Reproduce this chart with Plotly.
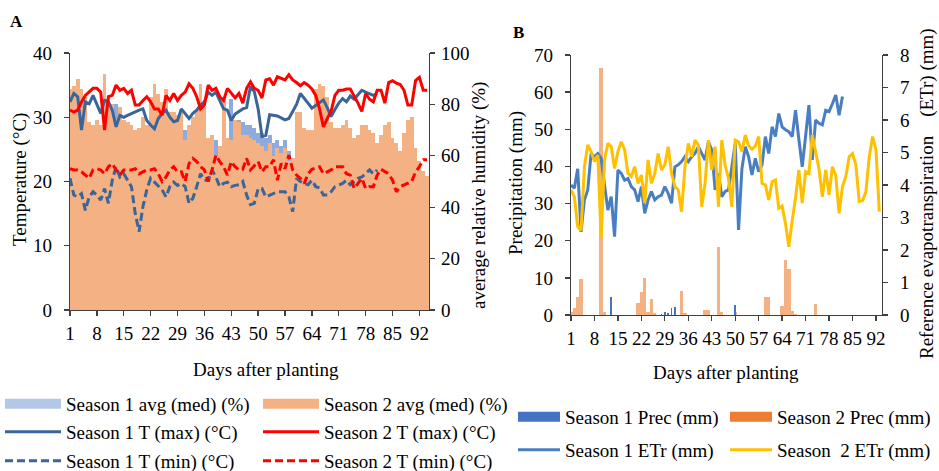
import plotly.graph_objects as go

FONT = "Liberation Serif, Times New Roman, serif"
W, H = 939, 471

# ---------------- Panel A data ----------------
days_s1_a = list(range(1, 82))
days_s2_a = list(range(1, 95))

s1_hum = [82, 84, 86, 82, 80, 70, 70, 71, 70, 86,
          78, 77, 80, 76, 71, 70, 69, 68, 69, 72,
          70, 80, 84, 80, 78, 82, 74, 74, 73, 75,
          70, 69, 72, 75, 84, 76, 64, 65, 66, 62,
          78, 67, 82, 73, 74, 73, 72, 72, 71, 69,
          69, 67, 68, 65, 66, 64, 66, 62, 56, 74,
          74, 68, 67, 67, 82, 84, 83, 80, 70, 68,
          68, 69, 71, 68, 64, 65, 69, 69, 67, 66,
          62]
s2_hum = [86, 87, 90, 86, 83, 73, 72, 74, 72, 92,
          82, 80, 74, 79, 74, 73, 72, 70, 71, 75,
          72, 83, 88, 84, 81, 86, 77, 77, 76, 78,
          66, 72, 75, 78, 88, 79, 67, 68, 60, 64,
          82, 67, 66, 74, 73, 68, 68, 67, 66, 65,
          64, 62, 65, 60, 63, 61, 63, 58, 59, 77,
          77, 71, 70, 70, 86, 88, 87, 83, 73, 71,
          71, 72, 74, 71, 67, 68, 72, 72, 70, 69,
          65, 68, 72, 73, 67, 65, 62, 69, 74, 75,
          63, 58, 54, 52]
s1_tmax = [32.4, 33.7, 33.2, 28.0, 32.4, 32.1, 33.4, 31.9, 30.6, 32.6,
           32.4, 31.1, 28.5, 30.3, 30.0, 30.3, 30.6, 30.8, 31.1, 31.3,
           29.5, 28.8, 28.2, 29.8, 30.6, 31.1, 30.0, 29.3, 29.5, 31.3,
           30.6, 29.8, 30.6, 31.1, 31.9, 32.4, 33.9, 33.4, 33.9, 32.6,
           31.3, 31.1, 29.5, 30.5, 30.9, 31.3, 31.5, 34.8, 34.0, 31.3,
           27.0, 27.2, 30.4, 30.3, 30.2, 29.9, 29.6, 29.8, 30.9, 32.0,
           33.7, 33.0, 32.2, 31.4, 31.8, 32.3, 32.7, 31.5, 30.1, 31.2,
           32.2, 32.9, 32.4, 33.3, 32.8, 33.5, 34.2, 33.9, 33.6, 33.4,
           33.7]
s1_tmin = [20.5, 17.9, 17.6, 18.1, 15.5, 17.6, 18.4, 17.9, 17.1, 18.9,
           16.6, 20.2, 22.3, 20.7, 21.2, 20.2, 19.2, 15.0, 12.2, 16.1,
           18.7, 20.5, 19.9, 19.2, 18.7, 17.6, 19.2, 19.9, 19.4, 19.7,
           19.2, 16.6, 17.4, 19.2, 21.2, 20.2, 20.2, 21.8, 20.7, 19.2,
           19.7, 19.9, 19.2, 19.4, 19.5, 20.0, 17.9, 16.4, 16.6, 18.9,
           18.9, 17.6, 17.9, 18.2, 18.4, 18.4, 18.4, 17.6, 15.3, 20.5,
           20.0, 19.7, 19.5, 20.2, 19.2, 19.0, 17.9, 17.9, 18.4, 19.2,
           19.4, 19.7, 20.2, 19.5, 20.0, 20.5, 20.7, 21.3, 21.8, 21.2,
           21.8]
s2_tmax = [31.1, 30.8, 31.1, 32.4, 33.4, 33.9, 34.5, 34.5, 33.9, 28.0,
           33.2, 33.4, 35.0, 34.2, 34.5, 33.7, 34.2, 31.9, 31.9, 32.6,
           33.2, 32.4, 31.3, 31.3, 30.3, 33.4, 32.6, 33.7, 32.6, 33.4,
           33.9, 35.2, 34.5, 33.2, 31.3, 31.9, 35.0, 34.2, 34.5, 33.2,
           32.6, 34.5, 33.7, 33.0, 33.7, 32.2, 34.5, 35.5, 34.5, 34.2,
           33.0, 35.8, 36.0, 35.0, 36.3, 36.0, 35.8, 36.6, 35.8, 35.4,
           34.9, 35.4, 35.0, 34.4, 33.4, 31.3, 28.5, 29.8, 30.9, 33.4,
           34.2, 34.2, 34.4, 34.4, 33.4, 32.2, 30.9, 33.7, 32.8, 32.4,
           34.2, 34.2, 32.2, 35.4, 35.7, 35.3, 35.1, 34.2, 31.9, 31.9,
           35.7, 36.2, 34.2, 34.2]
s2_tmin = [22.0, 21.8, 21.8, 21.5, 21.0, 20.5, 21.8, 22.0, 21.8, 21.2,
           22.3, 22.8, 21.8, 21.0, 21.8, 21.8, 21.8, 22.0, 21.2, 21.5,
           21.8, 21.8, 22.0, 21.2, 20.0, 20.7, 21.8, 22.3, 21.5, 21.5,
           20.0, 22.8, 23.6, 23.1, 22.3, 21.8, 20.0, 21.8, 24.1, 23.1,
           22.3, 21.0, 23.1, 22.3, 21.8, 21.9, 23.6, 21.8, 22.5, 23.1,
           21.5, 22.3, 22.3, 23.4, 20.2, 22.8, 22.0, 24.1, 21.8, 21.0,
           20.5, 19.7, 21.2, 21.9, 22.1, 22.3, 21.2, 21.5, 21.8, 22.3,
           22.3, 22.3, 21.2, 21.0, 18.9, 19.7, 20.5, 18.9, 19.2, 19.2,
           21.0, 21.9, 21.5, 21.2, 20.2, 18.4, 19.2, 19.5, 19.7, 20.0,
           21.5, 22.3, 23.4, 23.4]

# ---------------- Panel B data ----------------
days_s1_b = list(range(1, 83))
days_s2_b = list(range(1, 94))
s1_etr = [4.0, 3.9, 4.5, 2.56, 3.54, 3.85, 4.97, 4.87, 4.97, 4.82,
          4.0, 3.23, 3.64, 2.41, 4.46, 4.36, 4.15, 4.2, 3.95, 3.85,
          3.49, 3.95, 3.13, 3.54, 3.8, 3.54, 3.64, 3.69, 3.95, 3.74,
          3.44, 4.56, 4.62, 4.72, 4.87, 4.72, 4.87, 4.97, 5.18, 4.97,
          4.77, 5.33, 5.08, 3.85, 4.36, 3.64, 3.8, 3.85, 4.5, 5.28,
          2.62, 4.5, 5.18, 4.87, 4.31, 4.82, 4.41, 4.62, 5.49, 4.97,
          5.79, 5.49, 6.2, 5.79, 5.7, 5.64, 5.49, 6.3, 5.4, 4.56,
          5.5, 6.46, 4.77, 6.0, 5.9, 5.85, 6.3, 6.26, 6.5, 6.77,
          6.15, 6.72]
s2_etr = [3.85, 3.64, 2.72, 2.6, 4.56, 5.23, 5.03, 4.72, 4.92, 2.36,
          4.77, 5.28, 5.18, 4.51, 5.03, 5.33, 5.08, 4.36, 4.26, 4.56,
          4.05, 4.31, 3.44, 4.77, 4.05, 4.36, 4.97, 4.46, 4.62, 5.18,
          4.36, 3.95, 3.85, 3.18, 4.56, 5.28, 4.87, 5.38, 5.23, 3.33,
          4.05, 5.38, 4.46, 5.18, 3.33, 5.38, 4.6, 4.2, 3.33, 5.38,
          5.33, 5.03, 5.54, 5.2, 5.1, 5.2, 5.49, 4.05, 4.0, 3.54,
          4.1, 4.15, 3.28, 3.35, 2.82, 2.1, 2.9, 3.6, 4.46, 3.44,
          4.41, 4.35, 5.54, 5.0, 4.5, 3.64, 4.46, 3.7, 4.56, 4.3,
          3.13, 3.95, 4.26, 4.87, 4.97, 4.62, 3.49, 3.52, 3.79, 4.87,
          5.49, 5.08, 3.18]
s1_prec_days = [13, 28, 29, 30, 31, 32, 50]
s1_prec_mm = [4.8, 0.3, 0.9, 0.5, 2.0, 2.2, 2.7]
s2_prec_days = [1, 2, 3, 4, 10, 11, 21, 22, 23, 24, 25, 26, 34, 35, 41, 42,
                45, 46, 50, 59, 60, 64, 65, 66, 67, 68, 74]
s2_prec_mm = [0.8, 1.8, 4.8, 9.8, 66.5, 0.8, 3.1, 6.3, 9.9, 0.9, 4.2, 0.6,
              6.5, 0.6, 1.3, 1.3, 18.2, 0.7, 0.8, 4.8, 4.8, 2.4, 14.8, 12.3,
              1.0, 0.4, 3.0]

x_ticks = [1, 8, 15, 22, 29, 36, 43, 50, 57, 64, 71, 78, 85, 92]

# colours
C_S1_HUM = "#8FAADC"
C_S1_HUM_LEG = "#B4C7E7"
C_S2_HUM = "#F4B183"
C_S1_T = "#3A6598"
C_S2_T = "#FF0000"
C_S1_PREC = "#4472C4"
C_S2_PREC = "#F4B183"
C_S2_PREC_LEG = "#ED7D31"
C_S1_ETR = "#4A7EC2"
C_S2_ETR = "#FFC000"


def px(x):
    return x / W


def py(y):
    return 1 - y / H


fig = go.Figure()

# Panel A bars (base axis y = humidity)
fig.add_trace(go.Bar(x=days_s1_a, y=s1_hum, width=1, marker=dict(color=C_S1_HUM, line=dict(width=0)),
                     xaxis="x", yaxis="y", showlegend=False, name="Season 1 avg (med) (%)"))
fig.add_trace(go.Bar(x=days_s2_a, y=s2_hum, width=1, marker=dict(color=C_S2_HUM, line=dict(width=0)),
                     xaxis="x", yaxis="y", showlegend=False, name="Season 2 avg (med) (%)"))
# Panel A lines (overlay axis y2 = temperature)
fig.add_trace(go.Scatter(x=days_s1_a, y=s1_tmax, mode="lines", line=dict(color=C_S1_T, width=3),
                         xaxis="x", yaxis="y2", name="Season 1 T (max) (°C)", legend="legend2"))
fig.add_trace(go.Scatter(x=days_s1_a, y=s1_tmin, mode="lines", line=dict(color=C_S1_T, width=3, dash="8px,4px"),
                         xaxis="x", yaxis="y2", name="Season 1 T (min) (°C)", legend="legend3"))
fig.add_trace(go.Scatter(x=days_s2_a, y=s2_tmax, mode="lines", line=dict(color=C_S2_T, width=3),
                         xaxis="x", yaxis="y2", name="Season 2 T (max) (°C)", legend="legend2"))
fig.add_trace(go.Scatter(x=days_s2_a, y=s2_tmin, mode="lines", line=dict(color=C_S2_T, width=3, dash="8px,4px"),
                         xaxis="x", yaxis="y2", name="Season 2 T (min) (°C)", legend="legend3"))
# legend swatches for the humidity bars
fig.add_trace(go.Scatter(x=[None], y=[None], mode="lines", line=dict(color=C_S1_HUM_LEG, width=10),
                         xaxis="x", yaxis="y", name="Season 1 avg (med) (%)", legend="legend"))
fig.add_trace(go.Scatter(x=[None], y=[None], mode="lines", line=dict(color=C_S2_HUM, width=10),
                         xaxis="x", yaxis="y", name="Season 2 avg (med) (%)", legend="legend"))

# Panel B bars (base axis y3 = precipitation)
fig.add_trace(go.Bar(x=s2_prec_days, y=s2_prec_mm, width=1.0, marker=dict(color=C_S2_PREC, line=dict(width=0)),
                     xaxis="x2", yaxis="y3", showlegend=False, name="Season 2 Prec (mm)"))
fig.add_trace(go.Bar(x=s1_prec_days, y=s1_prec_mm, width=0.45, marker=dict(color=C_S1_PREC, line=dict(width=0)),
                     xaxis="x2", yaxis="y3", showlegend=False, name="Season 1 Prec (mm)"))
fig.add_trace(go.Scatter(x=[None], y=[None], mode="lines", line=dict(color=C_S1_PREC, width=10),
                         xaxis="x2", yaxis="y3", name="Season 1 Prec (mm)", legend="legend4"))
fig.add_trace(go.Scatter(x=[None], y=[None], mode="lines", line=dict(color=C_S2_PREC_LEG, width=10),
                         xaxis="x2", yaxis="y3", name="Season 2 Prec (mm)", legend="legend4"))
# Panel B lines (overlay axis y4 = ETr)
fig.add_trace(go.Scatter(x=days_s1_b, y=s1_etr, mode="lines", line=dict(color=C_S1_ETR, width=3),
                         xaxis="x2", yaxis="y4", name="Season 1 ETr (mm)", legend="legend5"))
fig.add_trace(go.Scatter(x=days_s2_b, y=s2_etr, mode="lines", line=dict(color=C_S2_ETR, width=3),
                         xaxis="x2", yaxis="y4", name="Season \u00a02 ETr (mm)", legend="legend5"))

tickfont = dict(family=FONT, size=19, color="#000000")
titlefont = dict(family=FONT, size=19, color="#000000")
axis_common = dict(showline=True, linecolor="#404040", linewidth=1.3, ticks="outside", ticklen=5,
                   tickwidth=1.3, tickcolor="#404040", showgrid=False, zeroline=False,
                   tickfont=tickfont, fixedrange=True)

dom_a_x = [px(70), px(429)]
dom_a_y = [py(310), py(53)]
dom_b_x = [px(571), px(882)]
dom_b_y = [py(315), py(55)]

legend_common = dict(orientation="h", bgcolor="rgba(0,0,0,0)", font=dict(family=FONT, size=19, color="#000000"),
                     xanchor="left", yanchor="middle", entrywidthmode="pixels", traceorder="normal",
                     itemclick=False, itemdoubleclick=False, borderwidth=0)


def title_ann(text, x, y, angle=0):
    return dict(text=text, x=px(x), y=py(y), xref="paper", yref="paper", showarrow=False,
                xanchor="center", yanchor="middle", textangle=angle, font=titlefont)


fig.update_layout(
    width=W, height=H,
    margin=dict(l=0, r=0, t=0, b=0, autoexpand=False),
    paper_bgcolor="white", plot_bgcolor="rgba(0,0,0,0)",
    barmode="overlay", bargap=0,
    font=dict(family=FONT, size=19, color="#000000"),
    xaxis=dict(domain=dom_a_x, anchor="y", range=[1, 94.5], tickvals=x_ticks, ticktext=[str(v) for v in x_ticks],
               ticklabelstandoff=1, **axis_common),
    yaxis=dict(domain=dom_a_y, anchor="x", side="right", range=[0, 100], tickvals=[0, 20, 40, 60, 80, 100],
               ticklabelstandoff=2, **axis_common),
    yaxis2=dict(overlaying="y", anchor="x", side="left", range=[0, 40], tickvals=[0, 10, 20, 30, 40],
                ticklabelstandoff=8, **axis_common),
    xaxis2=dict(domain=dom_b_x, anchor="y3", range=[1, 93.8], tickvals=x_ticks, ticktext=[str(v) for v in x_ticks],
                ticklabelstandoff=1, **axis_common),
    yaxis3=dict(domain=dom_b_y, anchor="x2", side="left", range=[0, 70], tickvals=[0, 10, 20, 30, 40, 50, 60, 70],
                ticklabelstandoff=8, **axis_common),
    yaxis4=dict(overlaying="y3", anchor="x2", side="right", range=[0, 8], tickvals=list(range(0, 9)),
                ticklabelstandoff=8, **axis_common),
    legend=dict(x=px(0), y=py(404), entrywidth=187, itemwidth=56, **legend_common),
    legend2=dict(x=px(0), y=py(432), entrywidth=187, itemwidth=56, **legend_common),
    legend3=dict(x=px(0), y=py(461), entrywidth=187, itemwidth=56, **legend_common),
    legend4=dict(x=px(513), y=py(417), entrywidth=155, itemwidth=42, **legend_common),
    legend5=dict(x=px(513), y=py(450), entrywidth=155, itemwidth=42, **legend_common),
    annotations=[
        dict(text="<b>A</b>", x=px(16), y=py(22), xref="paper", yref="paper", showarrow=False,
             xanchor="center", yanchor="middle", font=dict(family=FONT, size=17, color="#000000")),
        dict(text="<b>B</b>", x=px(518), y=py(33), xref="paper", yref="paper", showarrow=False,
             xanchor="center", yanchor="middle", font=dict(family=FONT, size=17, color="#000000")),
        title_ann("Days after planting", 266, 369),
        title_ann("Days after planting", 726, 372),
        title_ann("Temperature (°C)", 20, 180, -90),
        title_ann("average relative humidity (%)", 479, 196, -90),
        title_ann("Precipitation (mm)", 516, 183, -90),
        title_ann("Reference evapotranspiration\u00a0\u00a0\u00a0\u00a0(ETr) (mm)", 927, 194, -90),
    ],
)

fig.write_html("out.html", config={"displayModeBar": False, "staticPlot": True},
               post_script="document.body.style.margin='0';document.body.style.overflow='hidden';")
